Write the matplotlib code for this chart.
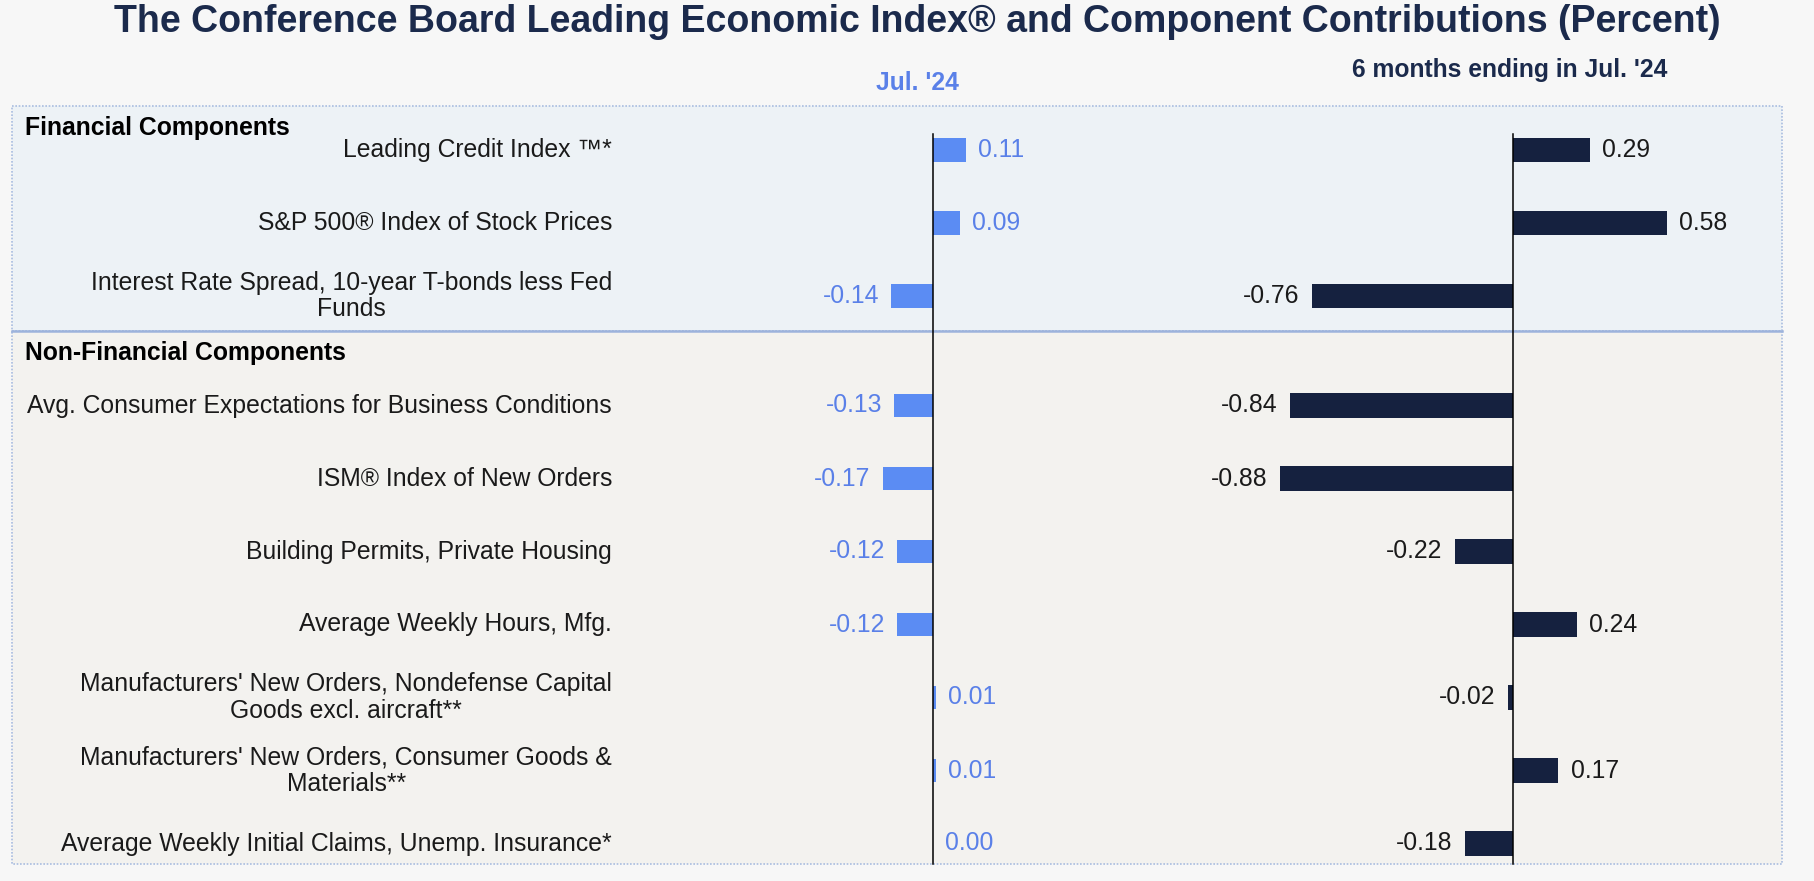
import numpy as np
import matplotlib
matplotlib.use("Agg")
import matplotlib.pyplot as plt
from matplotlib.patches import Rectangle

plt.rcParams['font.family'] = ['Liberation Sans', 'DejaVu Sans']

# ---- data ----
labels = [
    "Leading Credit Index \u2122*",
    "S&P 500\u00ae Index of Stock Prices",
    "Interest Rate Spread, 10-year T-bonds less Fed\nFunds",
    "Avg. Consumer Expectations for Business Conditions",
    "ISM\u00ae Index of New Orders",
    "Building Permits, Private Housing",
    "Average Weekly Hours, Mfg.",
    "Manufacturers' New Orders, Nondefense Capital\nGoods excl. aircraft**",
    "Manufacturers' New Orders, Consumer Goods &\nMaterials**",
    "Average Weekly Initial Claims, Unemp. Insurance*",
]
group = ["fin", "fin", "fin", "non", "non", "non", "non", "non", "non", "non"]
jul24 = [0.11, 0.09, -0.14, -0.13, -0.17, -0.12, -0.12, 0.01, 0.01, 0.00]
six_months = [0.29, 0.58, -0.76, -0.84, -0.88, -0.22, 0.24, -0.02, 0.17, -0.18]

# ---- style ----
W, H = 1814, 881
BLUE_BAR = "#5b8cf3"
BLUE_TXT = "#5a80e8"
NAVY = "#15213f"
TITLE_C = "#1b2a4c"
BG_OUT = "#f7f7f7"
BG_FIN = "#edf2f6"
BG_NON = "#f3f2ef"
BORDER = "#a9bde0"
FS = 17.8

fig = plt.figure(figsize=(W / 100, H / 100), dpi=100, facecolor=BG_OUT)

# row positions: financial rows, then a gap for the second section header
ypos = []
y = 0.0
for i, g in enumerate(group):
    if i > 0 and g != group[i - 1]:
        y += 0.5
    ypos.append(y)
    y += 1
ypos = np.array(ypos)

row_px = 73.0      # pixels per row
row0_px = 150.0    # pixel y of first row
ylim = ((H - row0_px) / row_px, -row0_px / row_px)


def px_axes(left_px, right_px):
    return fig.add_axes([left_px / W, 0, (right_px - left_px) / W, 1])


# background axes for the panels
bg = px_axes(0, W)
bg.set_xlim(0, W)
bg.set_ylim(*ylim)
bg.axis("off")
top_y, div_y, bot_y = -0.6, 2.48, 9.78
bg.add_patch(Rectangle((12, top_y), 1770, div_y - top_y, facecolor=BG_FIN,
                       edgecolor=BORDER, lw=1.2, ls=(0, (1, 1))))
bg.add_patch(Rectangle((12, div_y), 1770, bot_y - div_y, facecolor=BG_NON,
                       edgecolor=BORDER, lw=1.2, ls=(0, (1, 1))))
bg.plot([12, 1782], [div_y, div_y], color="#9db3dc", lw=1.8)

# row labels and section headers
for yy, lab in zip(ypos, labels):
    bg.text(612, yy, lab, ha="right", va="center", multialignment="center",
            fontsize=FS, color="#1a1a1a", linespacing=1.15)
bg.text(25, -0.3, "Financial Components", ha="left", va="center",
        fontsize=FS, fontweight="bold", color="black")
bg.text(25, 2.78, "Non-Financial Components", ha="left", va="center",
        fontsize=FS, fontweight="bold", color="black")


def bar_panel(ax_left, ax_right, zero_px, scale_px, values, bar_c, txt_c, hgt):
    ax = px_axes(ax_left, ax_right)
    ax.set_xlim((ax_left - zero_px) / scale_px, (ax_right - zero_px) / scale_px)
    ax.set_ylim(*ylim)
    ax.patch.set_visible(False)
    for s in ax.spines.values():
        s.set_visible(False)
    ax.set_xticks([])
    ax.set_yticks([])
    ax.barh(ypos, values, height=hgt, color=bar_c)
    ax.plot([0, 0], [-0.22, bot_y], color="black", lw=1.1)
    for yy, v in zip(ypos, values):
        off = 9 if v >= 0 else -9
        ax.annotate(f"{v:.2f}", (v, yy), xytext=(off, 0), textcoords="offset points",
                    ha="left" if v >= 0 else "right", va="center",
                    fontsize=FS, color=txt_c)
    return ax


bar_panel(640, 1200, 933, 297, jul24, BLUE_BAR, BLUE_TXT, 0.32)
bar_panel(1200, 1780, 1513, 265, six_months, NAVY, "#1a1a1a", 0.34)

fig.text(917 / W, 1 - 22 / H, "The Conference Board Leading Economic Index\u00ae and Component Contributions (Percent)",
         ha="center", va="center", fontsize=27, fontweight="bold", color=TITLE_C)
fig.text(917 / W, 1 - 83 / H, "Jul. '24", ha="center", va="center",
         fontsize=17.7, fontweight="bold", color=BLUE_TXT)
fig.text(1510 / W, 1 - 70 / H, "6 months ending in Jul. '24", ha="center", va="center",
         fontsize=17.7, fontweight="bold", color=TITLE_C)

fig.savefig("out.png", dpi=100, facecolor=BG_OUT)
